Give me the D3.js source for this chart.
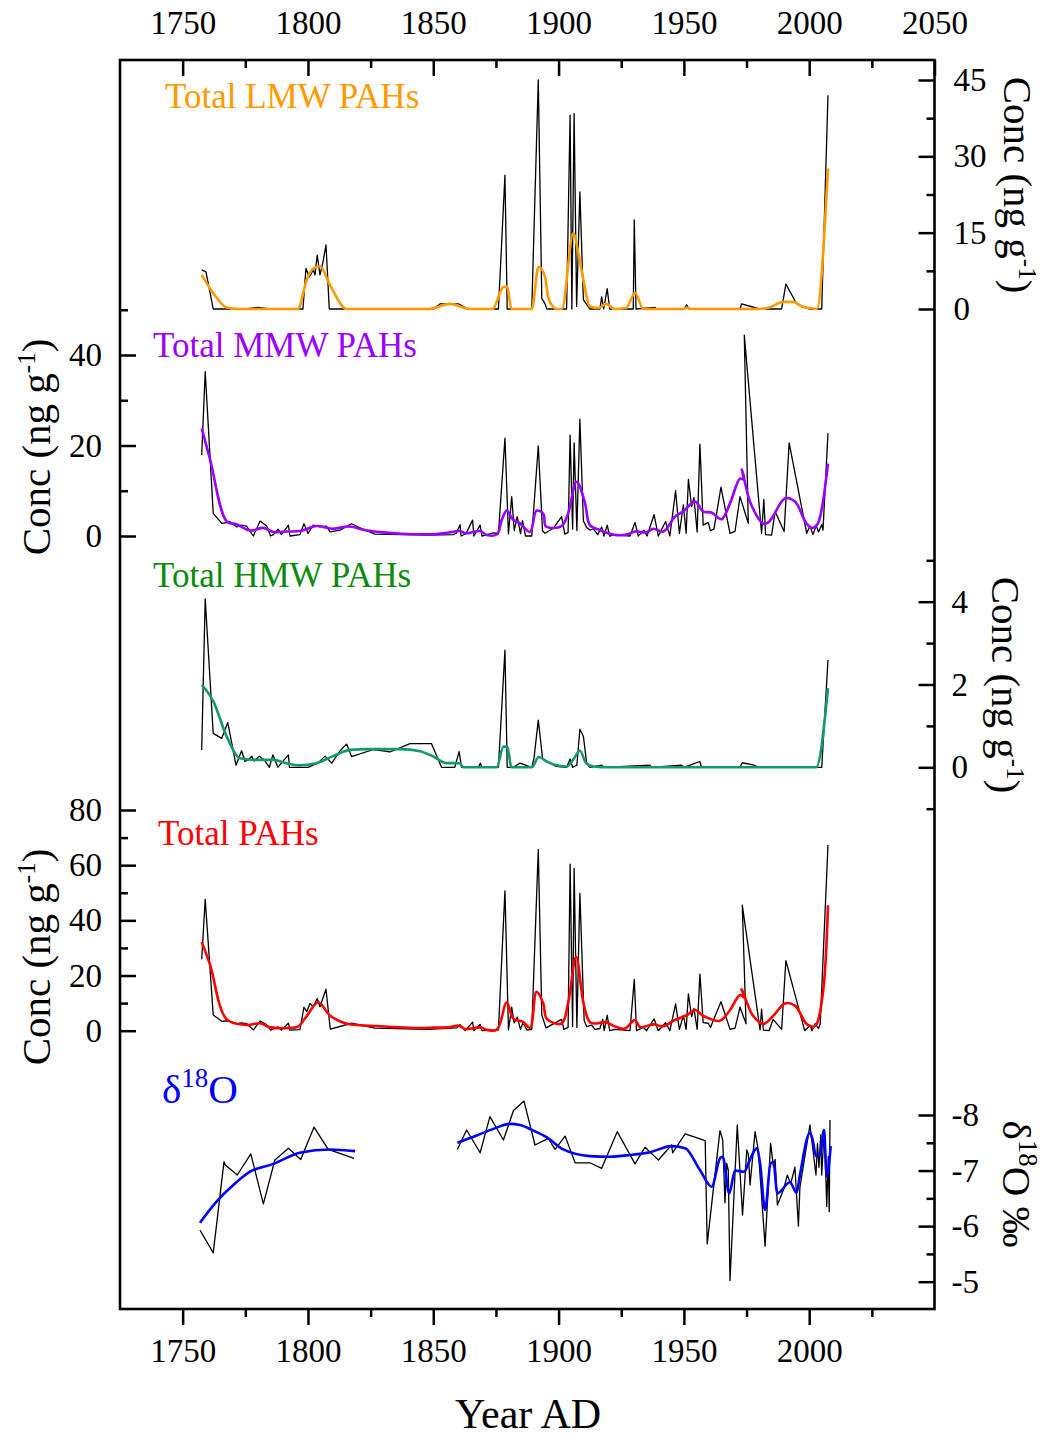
<!DOCTYPE html>
<html>
<head>
<meta charset="utf-8">
<script src="https://cdn.jsdelivr.net/npm/d3@7"></script>
<style>
  body { margin: 0; background: #fff; }
  svg text { font-family: "Liberation Serif", "Times New Roman", serif; }
</style>
</head>
<body>
<div id="chart"></div>
<script>
// ---- data: [year AD, value] ----
const lmwRaw = [[1757.6,7.7],[1759.3,7.3],[1762.2,0],[1775,0],[1780,0.3],[1785,0],[1798,0],[1799.2,8],[1800.5,6.3],[1802.1,7.7],[1802.8,6.7],[1803.7,10.6],[1804.8,6.7],[1805.9,9],[1807.2,12.6],[1808.5,0],[1850,0],[1852.7,1],[1860,1],[1864,0],[1876,0],[1878.6,26.3],[1879.5,0],[1889.3,0],[1891.9,45],[1893.3,2.1],[1894.6,1],[1895.3,0],[1903.2,0],[1904.6,38.1],[1905.3,0],[1906.2,38.4],[1907.2,0.5],[1908.5,23],[1909.9,1.8],[1911.2,0.9],[1912.5,0],[1916.5,0],[1917.2,2.4],[1918,0],[1919.4,4],[1920.4,0],[1929.8,0],[1930.2,17.5],[1930.9,0],[1938.5,0.3],[1939,0],[1950,0],[1951.1,0.8],[1952,0],[1972.4,0],[1973,1],[1980.3,0],[1989,0],[1990.7,4.9],[1995,1],[2000,0],[2005,0],[2007.5,42]];
const lmwSmooth = [[1757.6,6.7],[1762.2,3.1],[1767.5,0.3],[1772,0],[1796,0],[1799.5,5.7],[1802,7.9],[1804.8,8.4],[1808.8,4.7],[1815.5,0],[1848,0],[1856.7,1],[1864.8,0],[1873.6,0],[1878,4.3],[1879.5,4.4],[1881.2,0],[1889.3,0],[1892,8.3],[1894.6,6.3],[1896,2],[1899.3,0],[1901.3,0],[1905.9,14.9],[1907.9,11],[1909.9,5.7],[1912.5,0.5],[1916,0.2],[1919,1],[1922.4,0],[1927,0.2],[1930.5,3.2],[1933.8,0],[1950,0],[1951,0.3],[1953,0],[1980,0],[1984,0.3],[1989.7,1.4],[1993.7,1.4],[1997,0.5],[2000,0.2],[2003,0],[2007.5,27.6]];

const mmwRaw = [[1757.6,17.9],[1759,36.3],[1762.2,5],[1765.6,2.8],[1768.2,3],[1768.8,3.2],[1771.5,2],[1773.5,2.4],[1775.5,2.2],[1778.2,0],[1780.9,3.3],[1783.5,2.2],[1785.1,0],[1786.2,0.3],[1788.1,1.5],[1789.4,0.3],[1792.2,2.4],[1792.8,0],[1796.8,0.3],[1798.4,2.7],[1800,0.6],[1802.1,2.4],[1804.8,2],[1807.4,2.2],[1808.8,0.9],[1812.8,1.3],[1817.4,2.7],[1822,1.5],[1826.7,0.4],[1848,0.2],[1858,0.3],[1859.3,0.7],[1860.7,2.5],[1861.1,0],[1863,0.5],[1865.7,3.5],[1866.2,0],[1868.7,2.4],[1869.4,0],[1874.1,0.7],[1876,0.5],[1878.6,21.6],[1880,0.5],[1881.3,8.7],[1882.3,1.2],[1883.5,4.3],[1884.8,0.5],[1885.6,3.4],[1886.8,0],[1889.3,0],[1891.9,19.9],[1893.6,1.1],[1894.6,0.6],[1897.9,1.7],[1901.2,4.3],[1902.5,0.4],[1903.8,0.8],[1904.6,22.3],[1905.6,1.5],[1906.2,20.6],[1907.3,1.2],[1908.5,25.8],[1909.9,3.3],[1911.2,1.9],[1912.5,1.3],[1913.9,1.6],[1915.6,0.3],[1917.2,2],[1918.1,0],[1919.4,2.4],[1920.4,0],[1922.4,0.3],[1928.5,0],[1930.5,3],[1931.8,0],[1934,1.3],[1935.3,0],[1938.1,4.7],[1939.8,0],[1942.7,3.2],[1944.4,0],[1946.7,10],[1948.2,0.6],[1949.8,6.9],[1950.9,0.6],[1951.8,12.5],[1953.1,6.5],[1954,8.5],[1955.3,0.9],[1956.4,20.3],[1957.7,2.4],[1959.7,3],[1960.6,1.2],[1962,1.5],[1964.8,10.8],[1968.4,0.6],[1970.4,1],[1972.4,8.7],[1975.7,2.8],[1974.1,44.4],[1981,0.6],[1981.9,8.1],[1982.6,0.3],[1985,0.2],[1986.4,5.4],[1990,1],[1992,20.6],[1999,0.6],[2000.3,2.2],[2001.5,0.3],[2002.8,2.3],[2003.7,0.9],[2005,2.5],[2005.5,1.3],[2007.5,22.7]];
const mmwSmooth = [[1757.6,23.8],[1761,16.8],[1767.6,3.2],[1771.5,2.6],[1776.9,1.2],[1782.2,1.8],[1786.2,0.9],[1791.5,1],[1796.9,1.1],[1803.5,2.2],[1810,1.6],[1816.4,2.1],[1823.6,1.2],[1830,0.8],[1837,0.5],[1843,0.4],[1850.3,0.4],[1855.5,0.7],[1860.7,1.1],[1863,0.6],[1868.7,1.1],[1871.4,0.2],[1875.4,0.4],[1877.3,3.5],[1879.3,5.6],[1881.7,3.7],[1884.6,2.8],[1888.6,0.9],[1891.2,5.6],[1893.9,4.9],[1895,2.1],[1901.2,2.2],[1903.8,5],[1907.2,12],[1910.5,7.4],[1912.5,2.4],[1916.5,1.3],[1921.8,0.3],[1927.1,0.3],[1930.5,1],[1935.1,0.8],[1937.8,1.6],[1941.8,1],[1946.5,4.3],[1949.8,5.5],[1954.5,7.6],[1957.7,5.4],[1961,5.2],[1965,3.7],[1968.4,7.2],[1972.4,12.7],[1974,12.5],[1973.1,14.7],[1974.2,12.2],[1976.8,7],[1981.7,2.7],[1983.7,3],[1985.7,4.5],[1990.3,8.3],[1994.3,7.6],[1999,2.7],[2001.4,1.8],[2003.4,2.7],[2005,6],[2007.5,16]];

const hmwRaw = [[1757.6,0.42],[1759,4.07],[1762.2,0.82],[1765.6,0.7],[1768,1.08],[1771.3,0.05],[1773.5,0.4],[1774.9,0.14],[1776.5,0.2],[1777.6,0.27],[1778.5,0.15],[1780.6,0.27],[1782.9,0.15],[1784.6,0],[1786,0.3],[1788,0],[1789.4,0.1],[1792.2,0.3],[1792.6,0],[1800,0],[1804,0.1],[1806.8,0.27],[1809.5,0.1],[1812.8,0.4],[1815.4,0.56],[1817.4,0.26],[1826.1,0.43],[1832.7,0.37],[1840.7,0.57],[1849.3,0.57],[1853.3,0],[1858.6,0],[1860.3,0.38],[1861.3,0],[1868,0],[1868.8,0.1],[1869.4,0],[1876,0],[1878.6,2.83],[1879.5,0],[1882,0],[1884.6,0.1],[1889.3,0],[1890.2,0.22],[1891.9,1.14],[1893.6,0.22],[1895.3,0.15],[1899,0.02],[1903.2,0],[1904.6,0.2],[1905.6,0],[1907.3,0.05],[1908.5,0.92],[1909.9,0.75],[1911.2,0.1],[1912.5,0],[1917.2,0.05],[1918,0],[1936.5,0.05],[1936.9,0],[1949.1,0.05],[1950,0],[1956.4,0.14],[1957,0],[1972.4,0],[1973.3,0.11],[1978,0.05],[1980,0],[2005,0],[2007.5,2.59]];
const hmwSmooth = [[1757.6,1.99],[1762.2,1.6],[1767.6,0.74],[1772.9,0.22],[1779.5,0.18],[1786.2,0.18],[1791.5,0.1],[1796.8,0.05],[1803.4,0.1],[1810,0.27],[1816.8,0.42],[1823.4,0.44],[1836.7,0.44],[1844.7,0.39],[1850,0.26],[1855.3,0.1],[1860.4,0.1],[1862,0],[1875.3,0],[1878,0.5],[1879.5,0.5],[1881.2,0],[1889.3,0],[1892.1,0.25],[1895,0.15],[1898,0.07],[1903.2,0.02],[1906,0.2],[1908.5,0.4],[1911,0.1],[1914,0.02],[1920,0],[2002.8,0],[2007.5,1.91]];

const totalRaw = [[1757.6,25.9],[1759,47.6],[1762.2,5.7],[1765.6,3.4],[1768.2,3.6],[1768.8,3.4],[1771.5,2.6],[1773.5,2.8],[1775.5,2.6],[1778.2,0.3],[1780.9,3.5],[1783.5,2.2],[1785.1,0.2],[1788.1,1.4],[1789.4,0.2],[1792.2,2.7],[1792.8,0.2],[1796.8,0.4],[1798.4,8.5],[1799.5,6.9],[1800.8,9.9],[1802.1,8.7],[1803.7,11.7],[1804.8,8.7],[1807.2,15],[1808.9,0.6],[1817.4,2.7],[1826.7,0.9],[1848,0.5],[1859.3,1],[1860.7,2.2],[1862.7,0],[1865.7,3.1],[1866.2,0],[1868.7,2.3],[1869.4,0],[1876,0.3],[1878.6,50.7],[1880,0.3],[1881.3,8.5],[1882.3,2.8],[1883.5,4.9],[1884.8,0.5],[1885.8,2.8],[1887.4,0.2],[1889.3,0.5],[1891.9,65.7],[1893.3,5.7],[1895,1],[1901.2,4.1],[1902.1,0.5],[1903.8,1.2],[1904.6,60.4],[1905.6,1.5],[1906.2,58.8],[1907.3,1.2],[1908.5,49.8],[1910.2,3.8],[1911.2,1.5],[1913.2,2],[1914.5,0.5],[1916.5,0.8],[1917.6,4.2],[1918.2,0],[1919.4,5.6],[1920.4,0],[1922.4,0.5],[1928.5,0],[1930.2,18.6],[1931.1,0],[1933.8,1.2],[1935.1,0],[1938.1,4.3],[1939.8,0],[1942.7,2.9],[1944.4,0],[1946.7,9.7],[1948.2,0.5],[1949.8,5.5],[1950.9,0.5],[1951.8,13.3],[1953.1,5.1],[1954,8.1],[1955.3,0.5],[1956.4,20.5],[1957.7,2.9],[1959.7,2.7],[1960.6,1.2],[1964.8,10.5],[1968.4,0.5],[1970.4,0.9],[1972.4,8.5],[1974.8,2.5],[1973.3,45.5],[1980.4,0.3],[1981,7.8],[1981.7,0.2],[1984,0],[1985.6,4.1],[1989,0.5],[1990.7,25.4],[1998.2,0],[2000.4,2],[2001.1,0],[2002.4,2.6],[2003.7,0.8],[2004.4,2.4],[2007.5,67.3]];
const totalSmooth = [[1757.6,32.2],[1761,23.7],[1767.6,4.1],[1775.6,2.1],[1780.9,2.7],[1785,1.2],[1792.5,1],[1796,1.5],[1799.5,5.3],[1804.1,10.3],[1809,5.3],[1815.6,2.5],[1821,2],[1827.5,1.7],[1835,1.3],[1843.5,1],[1850,1.1],[1856.7,1.3],[1860.4,1.8],[1862.6,0.6],[1868.7,1.2],[1871.4,0.3],[1875.4,0.4],[1879.3,10.2],[1882,4.3],[1885.8,3.2],[1888.6,1],[1891.2,14.1],[1893.9,9.9],[1895.3,4.3],[1901.2,2.6],[1903.8,10],[1907,26.8],[1910,9.7],[1912.5,3.1],[1915.2,2.6],[1918.5,3.1],[1923.2,1.3],[1926.5,0.8],[1930.5,3.9],[1932.5,1.3],[1937.8,2.3],[1941.8,1.6],[1946.5,3.9],[1951.1,5.6],[1954.5,7.5],[1957.7,5.4],[1964.4,3.6],[1968.4,7.5],[1972.4,12.9],[1974.4,11.9],[1973,15],[1974.6,11.5],[1977.6,5.4],[1981.7,2.4],[1985.7,5.4],[1990.3,9.9],[1994.3,9.1],[1999,2.4],[2001.6,1.4],[2003,2.4],[2005.6,14.7],[2007.5,45.5]];

// null marks the gap in the oxygen isotope record
const d18oRaw = [[1756.9,-5.93],[1762.2,-5.52],[1766.5,-7.16],[1767,-7.1],[1771.8,-6.92],[1777.2,-7.3],[1782.2,-6.4],[1786.8,-7.19],[1792.2,-7.4],[1797.1,-7.2],[1802.4,-7.78],[1808.1,-7.38],[1818.4,-7.22],null,[1859.6,-7.38],[1863.3,-7.73],[1868.7,-7.32],[1872.6,-7.97],[1878,-7.55],[1882,-8.08],[1886.2,-8.25],[1890.6,-7.46],[1895.9,-7.58],[1898.6,-7.38],[1902.6,-7.62],[1906.6,-7.14],[1912.5,-7.14],[1917.2,-7.04],[1923.4,-7.7],[1930.5,-7.12],[1934.5,-7.42],[1939.8,-7.19],[1945.1,-7.46],[1945.5,-7.32],[1950.5,-7.66],[1958.5,-7.54],[1959.3,-5.68],[1964.4,-7.72],[1965.5,-7.55],[1966.4,-6.42],[1967.1,-7.13],[1967.7,-7.01],[1968.4,-5.02],[1971.3,-7.82],[1973.4,-6.2],[1975.1,-7.37],[1975.7,-7.3],[1976.4,-6.74],[1978.4,-7.7],[1979.7,-7.37],[1982.4,-5.64],[1984.6,-7.49],[1985.7,-7.08],[1986.4,-7.2],[1987.3,-6.38],[1989.7,-6.65],[1991.3,-6.92],[1992.6,-6.76],[1994.3,-7.06],[1995.7,-6],[1996.3,-6.7],[2000.3,-7.82],[2002.7,-6.92],[2003.3,-7.49],[2003.9,-7.06],[2004.6,-7.64],[2005,-6.92],[2005.6,-7.43],[2006.1,-7.73],[2007,-6.35],[2007.6,-7.25],[2008,-6.26],[2008.3,-7.91]];
const d18oSmooth = [[1756.9,-6.06],[1763.5,-6.44],[1770.2,-6.74],[1776.9,-6.98],[1786.2,-7.12],[1796.8,-7.32],[1808.8,-7.38],[1818.8,-7.35],null,[1859.6,-7.5],[1867.3,-7.63],[1874,-7.75],[1880.6,-7.84],[1884.6,-7.82],[1889.9,-7.72],[1895.2,-7.6],[1901.9,-7.38],[1912.5,-7.26],[1920.5,-7.25],[1928.5,-7.28],[1936.5,-7.33],[1945.1,-7.44],[1950.5,-7.4],[1956.4,-7.01],[1961.1,-6.71],[1964.4,-7.22],[1965.5,-7.25],[1968.1,-6.59],[1970.4,-7.0],[1974,-6.98],[1976.4,-7.2],[1979,-7.4],[1980.4,-7.13],[1982.4,-6.29],[1984.6,-7.13],[1985.7,-7.15],[1987.3,-6.59],[1992.3,-6.79],[1995,-6.6],[1996.3,-6.92],[2000.3,-7.68],[2001.4,-7.55],[2002.7,-7.26],[2004.3,-7.28],[2005.9,-7.73],[2007,-6.9],[2008.6,-7.44]];

// tick values
const yearMajor = [1750, 1800, 1850, 1900, 1950, 2000, 2050];
const yearMinor = [1775, 1825, 1875, 1925, 1975, 2025];
const lmwTicks = [0, 15, 30, 45], lmwMinor = [7.5, 22.5, 37.5];
const mmwTicks = [0, 20, 40], mmwMinor = [10, 30, 50];
const hmwTicks = [0, 2, 4], hmwMinor = [-1, 1, 3, 5];
const totalTicks = [0, 20, 40, 60, 80], totalMinor = [10, 30, 50, 70];
const d18oTicks = [-8, -7, -6, -5], d18oMinor = [-7.5, -6.5, -5.5];

const width = 1048, height = 1436;
const frame = { left: 120, right: 934.5, top: 60, bottom: 1309 };

const svg = d3.select('#chart')
  .append('svg')
    .attr('width', width)
    .attr('height', height);

const x = d3.scaleLinear().domain([1725, 2050]).range([frame.left, frame.right]);
const y_lmw = d3.scaleLinear().domain([0, 45]).range([309, 80]);
const y_mmw = d3.scaleLinear().domain([0, 40]).range([536, 355]);
const y_hmw = d3.scaleLinear().domain([0, 4]).range([767.3, 601.7]);
const y_total = d3.scaleLinear().domain([0, 80]).range([1030.7, 810]);
const y_d18o = d3.scaleLinear().domain([-8, -5]).range([1115, 1281.7]);

// series with a backward step in age get catmull-rom, the rest monotone
const panels = [
  { raw: lmwRaw, smooth: lmwSmooth, y: y_lmw, color: '#FF9900', curve: d3.curveMonotoneX },
  { raw: mmwRaw, smooth: mmwSmooth, y: y_mmw, color: '#9900FF', curve: d3.curveCatmullRom.alpha(0.5) },
  { raw: hmwRaw, smooth: hmwSmooth, y: y_hmw, color: '#129A6C', curve: d3.curveMonotoneX },
  { raw: totalRaw, smooth: totalSmooth, y: y_total, color: '#FF0000', curve: d3.curveCatmullRom.alpha(0.5) },
  { raw: d18oRaw, smooth: d18oSmooth, y: y_d18o, color: '#0000FF', curve: d3.curveMonotoneX }
];

// lines
panels.forEach(p => {
  const line = d3.line()
    .defined(d => d !== null)
    .x(d => x(d[0]))
    .y(d => p.y(d[1]));
  svg.append('path')
    .attr('d', line(p.raw))
    .attr('fill', 'none')
    .attr('stroke', '#000')
    .attr('stroke-width', 1.3)
    .attr('stroke-linejoin', 'round');
  svg.append('path')
    .attr('d', line.curve(p.curve)(p.smooth))
    .attr('fill', 'none')
    .attr('stroke', p.color)
    .attr('stroke-width', 2.6)
    .attr('stroke-linejoin', 'round');
});

// axes
let styleAxis = g => {
  g.select('.domain').remove();
  g.attr('font-size', 33);
  g.selectAll('line').attr('stroke', '#000').attr('stroke-width', 2.5);
  g.selectAll('text').attr('fill', '#000');
};
let addAxis = (axis, ty, tx) => {
  svg.append('g')
    .attr('transform', `translate(${tx || 0},${ty || 0})`)
    .call(axis)
    .call(styleAxis);
};
const fmt = d => String(d);

addAxis(d3.axisTop(x).tickValues(yearMajor).tickSize(-16).tickPadding(26).tickFormat(fmt), frame.top);
addAxis(d3.axisTop(x).tickValues(yearMinor).tickSize(-8).tickFormat(''), frame.top);
addAxis(d3.axisBottom(x).tickValues(yearMajor.slice(0, 6)).tickSize(16).tickPadding(14).tickFormat(fmt), frame.bottom);
addAxis(d3.axisBottom(x).tickValues(yearMinor).tickSize(8).tickFormat(''), frame.bottom);

addAxis(d3.axisRight(y_lmw).tickValues(lmwTicks).tickSize(-16).tickPadding(19).tickFormat(fmt), 0, frame.right);
addAxis(d3.axisRight(y_lmw).tickValues(lmwMinor).tickSize(-8).tickFormat(''), 0, frame.right);
addAxis(d3.axisLeft(y_mmw).tickValues(mmwTicks).tickSize(-16).tickPadding(18).tickFormat(fmt), 0, frame.left);
addAxis(d3.axisLeft(y_mmw).tickValues(mmwMinor).tickSize(-8).tickFormat(''), 0, frame.left);
addAxis(d3.axisRight(y_hmw).tickValues(hmwTicks).tickSize(-16).tickPadding(17).tickFormat(fmt), 0, frame.right);
addAxis(d3.axisRight(y_hmw).tickValues(hmwMinor).tickSize(-8).tickFormat(''), 0, frame.right);
addAxis(d3.axisLeft(y_total).tickValues(totalTicks).tickSize(-16).tickPadding(18).tickFormat(fmt), 0, frame.left);
addAxis(d3.axisLeft(y_total).tickValues(totalMinor).tickSize(-8).tickFormat(''), 0, frame.left);
addAxis(d3.axisRight(y_d18o).tickValues(d18oTicks).tickSize(-16).tickPadding(17).tickFormat(fmt), 0, frame.right);
addAxis(d3.axisRight(y_d18o).tickValues(d18oMinor).tickSize(-8).tickFormat(''), 0, frame.right);

// frame
svg.append('rect')
  .attr('x', frame.left).attr('y', frame.top)
  .attr('width', frame.right - frame.left).attr('height', frame.bottom - frame.top)
  .attr('fill', 'none')
  .attr('stroke', '#000')
  .attr('stroke-width', 2.6);

// panel labels
const labels = [
  { text: 'Total LMW PAHs', x: 165, y: 108, color: '#FF9900' },
  { text: 'Total MMW PAHs', x: 153, y: 357, color: '#9900FF' },
  { text: 'Total HMW PAHs', x: 153, y: 587, color: '#0A8A0A' },
  { text: 'Total PAHs', x: 158, y: 845, color: '#FF0000' }
];
svg.selectAll('.panel-label')
    .data(labels)
  .join('text')
    .attr('class', 'panel-label')
    .attr('x', d => d.x)
    .attr('y', d => d.y)
    .attr('fill', d => d.color)
    .attr('font-size', 35)
    .text(d => d.text);

const d18oLabel = svg.append('text')
  .attr('x', 162).attr('y', 1103)
  .attr('fill', '#0000FF')
  .attr('font-size', 41);
d18oLabel.append('tspan').text('δ');
d18oLabel.append('tspan').attr('font-size', 27).attr('dy', -16).text('18');
d18oLabel.append('tspan').attr('dy', 16).text('O');

// axis titles
let concTitle = (tx, ty, angle) => {
  const t = svg.append('text')
    .attr('transform', `translate(${tx},${ty}) rotate(${angle})`)
    .attr('text-anchor', 'middle')
    .attr('font-size', 41)
    .attr('fill', '#000');
  t.append('tspan').text('Conc (ng g');
  t.append('tspan').attr('font-size', 25).attr('dy', -15).text('-1');
  t.append('tspan').attr('dy', 15).text(')');
};
concTitle(1004, 185, 90);
concTitle(50, 447, -90);
concTitle(992, 685, 90);
concTitle(50, 957, -90);

const d18oTitle = svg.append('text')
  .attr('transform', 'translate(1003,1184) rotate(90)')
  .attr('text-anchor', 'middle')
  .attr('font-size', 41)
  .attr('fill', '#000');
d18oTitle.append('tspan').text('δ');
d18oTitle.append('tspan').attr('font-size', 27).attr('dy', -16).text('18');
d18oTitle.append('tspan').attr('dy', 16).text('O ‰');

svg.append('text')
  .attr('x', 528).attr('y', 1428)
  .attr('text-anchor', 'middle')
  .attr('font-size', 42)
  .attr('fill', '#000')
  .text('Year AD');
</script>
</body>
</html>
